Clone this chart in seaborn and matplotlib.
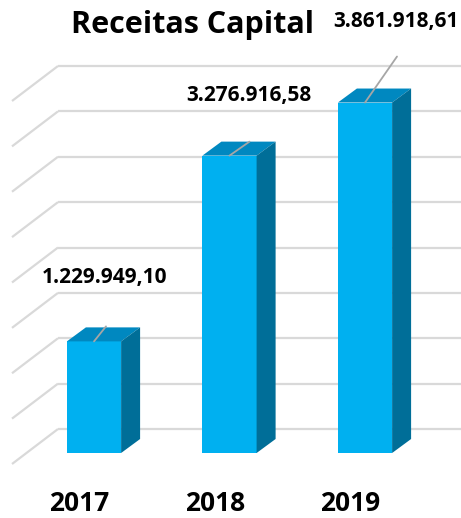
import numpy as np
import matplotlib
matplotlib.use('Agg')
import matplotlib.pyplot as plt
from matplotlib.patches import Polygon
import seaborn as sns

years = ['2017', '2018', '2019']
values = [1229949.10, 3276916.58, 3861918.61]
value_labels = ['1.229.949,10', '3.276.916,58', '3.861.918,61']
grid_ticks = np.arange(0, 4000001, 500000)
title = 'Receitas Capital'

# label offsets (pixels) from the top of each bar's front face
label_offsets = [(11, 58), (19, 55), (31, 76)]
leader_ends = [(12, 15), (20, 14), (32, 46)]

sns.set_theme(style='white')
plt.rcParams['font.family'] = ['Open Sans', 'DejaVu Sans']

W, H = 461, 518
fig = plt.figure(figsize=(W / 100, H / 100), dpi=100)
ax = fig.add_axes([0, 0, 1, 1])

FRONT = '#00B0F0'
TOP = '#0088C0'
SIDE = '#006E98'
GRID = '#D9D9D9'

sns.barplot(x=years, y=values, width=0.4, color=FRONT, saturation=1,
            linewidth=0, ax=ax, zorder=3)

# pixel scale of the fake 3d view
px_cat = 135.5            # pixels per category
px_val = 90.75 / 1e6      # pixels per unit of value
x0_px, y0_px = 94, 453    # first bar center / floor of the front faces
ax.set_xlim(-x0_px / px_cat, (W - x0_px) / px_cat)
ax.set_ylim((y0_px - H) / px_val, y0_px / px_val)
ax.axis('off')

def dx(p):
    return p / px_cat

def dy(p):
    return p / px_val

# back wall + floor diagonals
back_y = 24
floor_x, floor_y = 46, 35
xl = dx(58 - x0_px)
for g in grid_ticks:
    yb = g + dy(back_y)
    ax.plot([xl, ax.get_xlim()[1]], [yb, yb], color=GRID, lw=1.6, zorder=1,
            solid_capstyle='butt')
    ax.plot([xl - dx(floor_x), xl], [yb - dy(floor_y), yb], color=GRID, lw=1.6,
            zorder=1, solid_capstyle='butt')

# top and side faces of the bars
bw = 0.4
ddx, ddy = dx(19), dy(14)
for i, v in enumerate(values):
    l, r = i - bw / 2, i + bw / 2
    top = Polygon([(l, v), (r, v), (r + ddx, v + ddy), (l + ddx, v + ddy)],
                  closed=True, facecolor=TOP, edgecolor='none', zorder=3)
    side = Polygon([(r, 0), (r, v), (r + ddx, v + ddy), (r + ddx, ddy)],
                   closed=True, facecolor=SIDE, edgecolor='none', zorder=3)
    ax.add_patch(top)
    ax.add_patch(side)

# data labels with leader lines
for i, (v, lab) in enumerate(zip(values, value_labels)):
    ox, oy = label_offsets[i]
    ax.annotate(lab, xy=(i, v), xytext=(ox, oy), textcoords='offset pixels',
                ha='center', va='baseline', fontsize=15, fontweight='bold',
                color='black', zorder=5)
    lx, ly = leader_ends[i]
    ax.plot([i, i + dx(lx)], [v, v + dy(ly)], color='#A6A6A6', lw=1.3, zorder=4)

# category labels on the front floor edge
for i, yr in enumerate(years):
    ax.text(i - dx(14.5), dy(-(511 - y0_px)), yr, ha='center', va='baseline',
            fontsize=19, fontweight='bold', color='black')

fig.text(192 / W, 1 - 33 / H, title, ha='center', va='baseline',
         fontsize=22, fontweight='bold', color='black')

fig.savefig('out.png', dpi=100, facecolor='white')
